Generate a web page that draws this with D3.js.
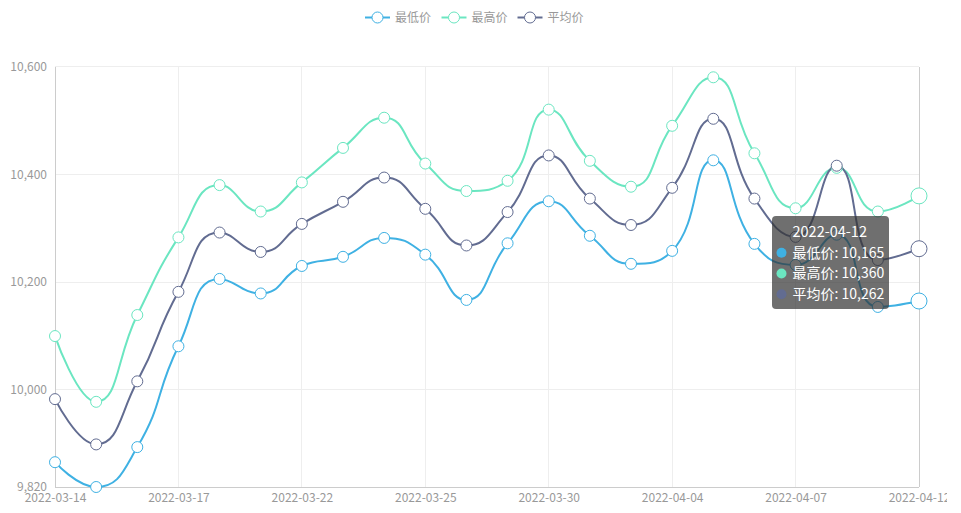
<!DOCTYPE html>
<html><head><meta charset="utf-8">
<script src="https://cdn.jsdelivr.net/npm/d3@7/dist/d3.min.js"></script>
<style>
html,body{margin:0;padding:0;background:#fff;}
svg{display:block;overflow:hidden;font-family:"Noto Sans CJK SC","Noto Sans",sans-serif;}
</style></head>
<body><svg id="c" width="947" height="513"></svg>
<script>
const dates = ["2022-03-14","2022-03-15","2022-03-16","2022-03-17","2022-03-18","2022-03-21","2022-03-22","2022-03-23","2022-03-24","2022-03-25","2022-03-28","2022-03-29","2022-03-30","2022-03-31","2022-04-01","2022-04-04","2022-04-05","2022-04-06","2022-04-07","2022-04-08","2022-04-11","2022-04-12"];
const lowVals  = [9866, 9820, 9894, 10081, 10206, 10179, 10230, 10247, 10282, 10251, 10167, 10272, 10350, 10286, 10234, 10258, 10426, 10271, 10232, 10288, 10154, 10165];
const highVals = [10100, 9978, 10139, 10283, 10380, 10331, 10385, 10449, 10505, 10420, 10369, 10388, 10520, 10425, 10377, 10490, 10580, 10439, 10337, 10412, 10331, 10360];
const avgVals  = [9983, 9899, 10016, 10182, 10292, 10256, 10308, 10349, 10394, 10336, 10268, 10330, 10435, 10355, 10306, 10375, 10503, 10355, 10284, 10416, 10241, 10262];
const seriesNames = ["最低价","最高价","平均价"];
const yTicks = [9820, 10000, 10200, 10400, 10600];
const xTickIdx = [0,3,6,9,12,15,18,21];
const hoverIdx = 21;

const colors = ["#3fb1e3","#6be6c1","#626c91"];
const series = [lowVals, highVals, avgVals];

const svg = d3.select("#c");
const x = d3.scalePoint().domain(dates).range([55, 919]);
const y = d3.scaleLinear().domain([9820, 10600]).range([487, 66.5]);

// ECharts-like smooth curve
function EcSmooth(context){ this._context = context; }
EcSmooth.prototype = {
  areaStart(){}, areaEnd(){},
  lineStart(){ this._pts = []; },
  point(px, py){ this._pts.push([+px, +py]); },
  lineEnd(){
    const ctx = this._context, pts = this._pts, smooth = 0.5;
    let cpx0, cpy0;
    for (let i = 0; i < pts.length; i++) {
      const [px, py] = pts[i];
      if (i === 0) { ctx.moveTo(px, py); cpx0 = px; cpy0 = py; continue; }
      const [prevX, prevY] = pts[i-1];
      let cpx1, cpy1, nCpx0, nCpy0;
      if (i === pts.length - 1) { cpx1 = px; cpy1 = py; }
      else {
        const [nextX, nextY] = pts[i+1];
        let vx = nextX - prevX, vy = nextY - prevY;
        const dx0 = px - prevX, dx1 = nextX - px, dy0 = py - prevY, dy1 = nextY - py;
        const lp = Math.sqrt(dx0*dx0 + dy0*dy0), ln = Math.sqrt(dx1*dx1 + dy1*dy1);
        const r = ln / (ln + lp);
        nCpx0 = px + vx*smooth*r; nCpy0 = py + vy*smooth*r;
        nCpx0 = Math.min(nCpx0, Math.max(nextX, px)); nCpy0 = Math.min(nCpy0, Math.max(nextY, py));
        nCpx0 = Math.max(nCpx0, Math.min(nextX, px)); nCpy0 = Math.max(nCpy0, Math.min(nextY, py));
        vx = nCpx0 - px; vy = nCpy0 - py;
        cpx1 = px - vx*lp/ln; cpy1 = py - vy*lp/ln;
        cpx1 = Math.min(cpx1, Math.max(prevX, px)); cpy1 = Math.min(cpy1, Math.max(prevY, py));
        cpx1 = Math.max(cpx1, Math.min(prevX, px)); cpy1 = Math.max(cpy1, Math.min(prevY, py));
        vx = px - cpx1; vy = py - cpy1;
        nCpx0 = px + vx*ln/lp; nCpy0 = py + vy*ln/lp;
      }
      ctx.bezierCurveTo(cpx0, cpy0, cpx1, cpy1, px, py);
      cpx0 = nCpx0; cpy0 = nCpy0;
    }
  }
};
const ecCurve = ctx => new EcSmooth(ctx);

// grid lines
const g = svg.append("g");
g.selectAll("line.hg").data(yTicks.slice(1)).enter().append("line")
  .attr("x1", 55).attr("x2", 919).attr("y1", d => y(d)).attr("y2", d => y(d))
  .attr("stroke", "#eeeeee").attr("stroke-width", 1).attr("shape-rendering","crispEdges");
g.selectAll("line.vg").data(xTickIdx.slice(1, -1)).enter().append("line")
  .attr("x1", d => x(dates[d])).attr("x2", d => x(dates[d])).attr("y1", y(10600)).attr("y2", y(9820))
  .attr("stroke", "#eeeeee").attr("stroke-width", 1).attr("shape-rendering","crispEdges");
// axis lines
[[55,55,y(10600),y(9820)],[919,919,y(10600),y(9820)],[55,919,y(9820),y(9820)]].forEach(l=>{
  g.append("line").attr("x1",l[0]).attr("x2",l[1]).attr("y1",l[2]).attr("y2",l[3])
   .attr("stroke","#cccccc").attr("stroke-width",1).attr("shape-rendering","crispEdges");
});

// y labels
const yAxis = d3.axisLeft(y).tickValues(yTicks).tickSize(0).tickPadding(8).tickFormat(d3.format(","));
const ya = svg.append("g").attr("transform","translate(55,0)").call(yAxis);
ya.select(".domain").remove();
ya.selectAll("text").attr("fill","#999").attr("font-size",12).attr("font-family",'"Noto Sans CJK SC",sans-serif');
// x labels
const xAxis = d3.axisBottom(x).tickValues(xTickIdx.map(i => dates[i])).tickSize(0).tickPadding(6);
const xa = svg.append("g").attr("transform",`translate(0,${y(9820)})`).call(xAxis);
xa.select(".domain").remove();
xa.selectAll("text").attr("fill","#999").attr("font-size",12).attr("font-family",'"Noto Sans CJK SC",sans-serif');

// lines
const line = d3.line().x((d,i) => x(dates[i])).y(d => y(d)).curve(ecCurve);
series.forEach((vals, si) => {
  svg.append("path").attr("d", line(vals)).attr("fill","none")
    .attr("stroke", colors[si]).attr("stroke-width", 2);
});
series.forEach((vals, si) => {
  svg.append("g").selectAll("circle").data(vals).enter().append("circle")
    .attr("cx", (d,i) => x(dates[i])).attr("cy", d => y(d))
    .attr("r", (d,i) => i === hoverIdx ? 8 : 5.5)
    .attr("fill","#fff").attr("stroke", colors[si]).attr("stroke-width", 1);
});

// legend
const legendX = [377.5, 454, 530];
const lg = svg.append("g");
seriesNames.forEach((n, i) => {
  const cx = legendX[i];
  lg.append("line").attr("x1", cx-12.5).attr("x2", cx+12.5).attr("y1", 17.5).attr("y2", 17.5)
    .attr("stroke", colors[i]).attr("stroke-width", 2);
  lg.append("circle").attr("cx", cx).attr("cy", 17.5).attr("r", 5.5)
    .attr("fill","#fff").attr("stroke", colors[i]).attr("stroke-width", 1);
  lg.append("text").attr("x", cx+17.5).attr("y", 17.5).attr("dy","0.35em")
    .attr("font-size", 12).attr("fill", "#999").text(n);
});

// tooltip
const tt = svg.append("g");
tt.append("rect").attr("x", 772).attr("y", 216).attr("width", 117).attr("height", 93)
  .attr("rx", 4).attr("fill", "rgba(50,50,50,0.7)");
tt.append("text").attr("x", 792.5).attr("y", 231.5).attr("dy","0.35em")
  .attr("font-size", 14.5).attr("fill","#fff").text(dates[hoverIdx]);
const fmt = d3.format(",");
series.forEach((vals, si) => {
  const cy = 252.7 + si * 20.8;
  tt.append("circle").attr("cx", 781.5).attr("cy", cy).attr("r", 5).attr("fill", colors[si]);
  tt.append("text").attr("x", 792.5).attr("y", cy).attr("dy","0.35em")
    .attr("font-size", 14).attr("fill","#fff").text(seriesNames[si] + ": " + fmt(vals[hoverIdx]));
});
</script></body></html>
